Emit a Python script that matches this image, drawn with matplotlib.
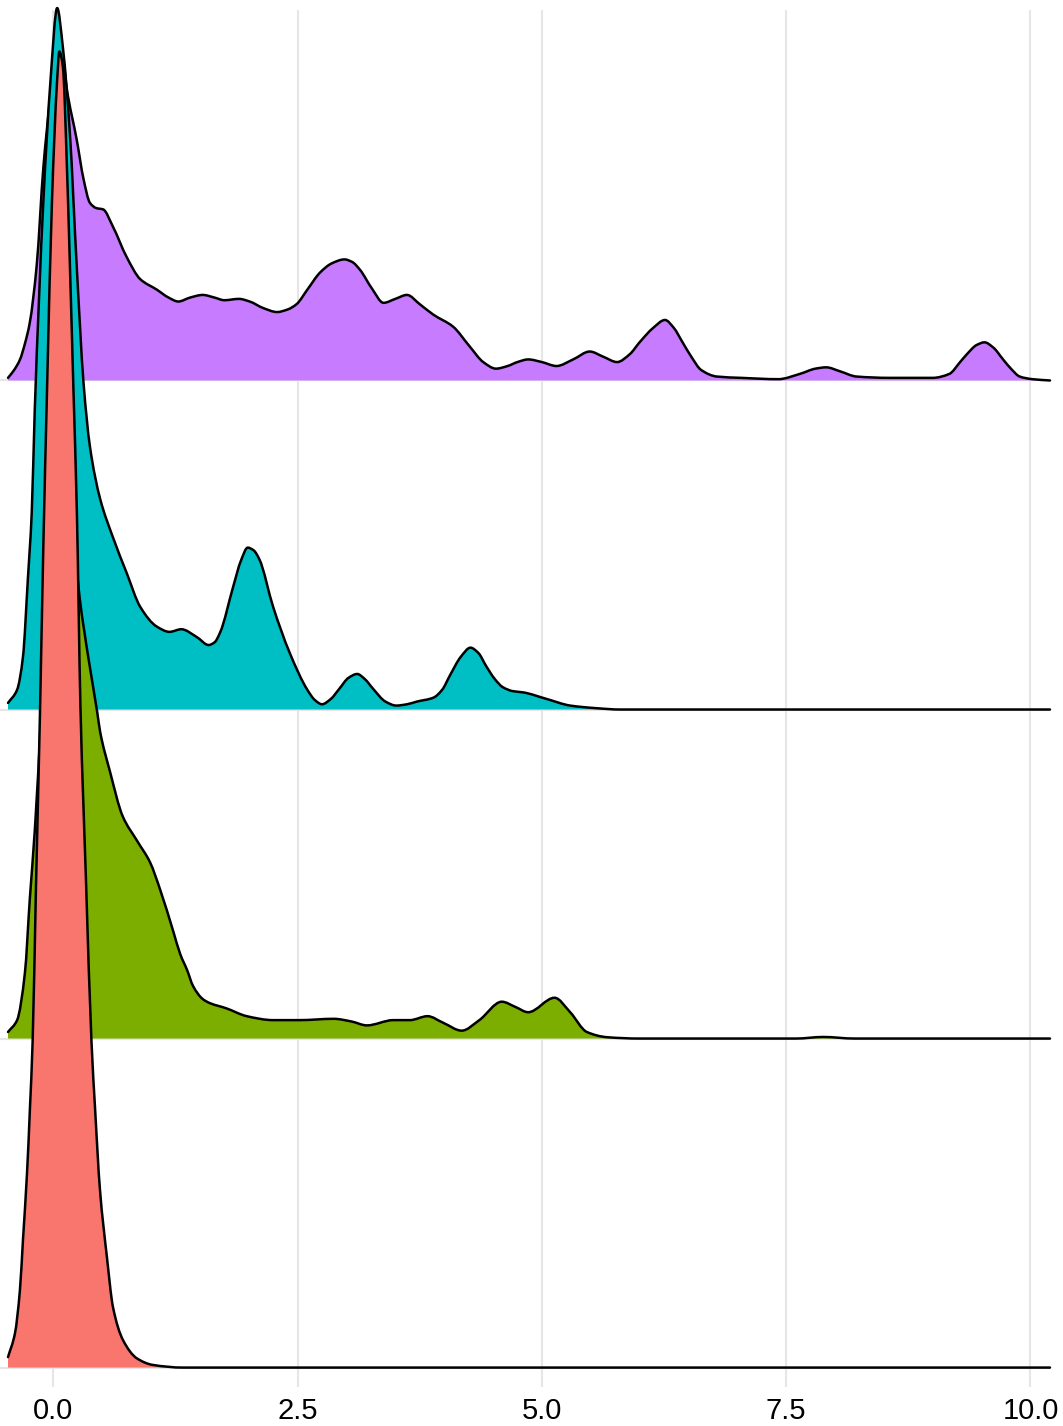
import matplotlib.pyplot as plt
import numpy as np
from matplotlib.path import Path
from matplotlib.patches import PathPatch

# ridge densities, relative to the tallest peak (=1)
red_x = [-0.463, -0.392, -0.341, -0.31, -0.269, -0.238, -0.211, -0.177, -0.136, -0.102,
         -0.064, -0.013, 0.038, 0.063, 0.099, 0.14, 0.171, 0.207, 0.242,
         0.278, 0.335, 0.391, 0.427, 0.478, 0.549, 0.611, 0.713, 0.856, 1.02, 1.33, 10.2]
red_h = [0.008, 0.026, 0.059, 0.097, 0.147, 0.198, 0.248, 0.365, 0.497, 0.623,
         0.742, 0.887, 0.976, 1.0, 0.988, 0.912, 0.836, 0.742, 0.649,
         0.503, 0.370, 0.248, 0.198, 0.135, 0.084, 0.046, 0.021, 0.007, 0.002, 0.0, 0.0]

green_x = [-0.463, -0.37, -0.29, -0.24, -0.19, -0.17, -0.136, -0.10, -0.064, 0.0, 0.06,
           0.12, 0.2, 0.27, 0.36, 0.45, 0.48, 0.58, 0.71, 0.86, 0.99, 1.09, 1.23, 1.30,
           1.37, 1.43, 1.53, 1.60, 1.77, 1.98, 2.25, 2.52, 2.87, 3.05, 3.21, 3.48, 3.65,
           3.83, 3.99, 4.18, 4.36, 4.59, 4.73, 4.86, 5.13, 5.29, 5.46, 5.67, 6.0, 7.6,
           7.88, 8.2, 10.2]
green_h = [0.005, 0.014, 0.050, 0.106, 0.157, 0.182, 0.228, 0.304, 0.365, 0.410, 0.426,
           0.420, 0.388, 0.335, 0.289, 0.248, 0.233, 0.203, 0.169, 0.150, 0.134, 0.114,
           0.081, 0.064, 0.052, 0.040, 0.030, 0.027, 0.023, 0.017, 0.014, 0.014, 0.015,
           0.013, 0.010, 0.014, 0.014, 0.017, 0.012, 0.006, 0.014, 0.028, 0.024, 0.020,
           0.031, 0.020, 0.005, 0.001, 0.0, 0.0, 0.0012, 0.0, 0.0]

cyan_x = [-0.463, -0.37, -0.31, -0.26, -0.22, -0.19, -0.10, -0.03, 0.04,
          0.10, 0.17, 0.24, 0.31, 0.375, 0.48, 0.61, 0.75, 0.89, 1.06, 1.19, 1.31,
          1.47, 1.59, 1.65, 1.71, 1.84, 1.92, 1.99, 2.05, 2.11, 2.25, 2.42, 2.60, 2.68,
          2.75, 2.84, 2.93, 3.02, 3.11, 3.19, 3.27, 3.40, 3.51, 3.62, 3.72, 3.89, 3.98,
          4.06, 4.17, 4.27, 4.35, 4.43, 4.52, 4.60, 4.70, 4.81, 5.05, 5.29, 5.56, 5.80,
          10.2]
cyan_h = [0.005, 0.015, 0.040, 0.099, 0.150, 0.226, 0.388, 0.476, 0.533,
          0.502, 0.438, 0.337, 0.248, 0.200, 0.160, 0.131, 0.104, 0.078, 0.063, 0.059,
          0.061, 0.055, 0.049, 0.051, 0.059, 0.093, 0.113, 0.123, 0.121, 0.114,
          0.078, 0.043, 0.015, 0.007, 0.004, 0.008, 0.016, 0.024, 0.027, 0.023, 0.016,
          0.006, 0.003, 0.004, 0.006, 0.009, 0.015, 0.026, 0.040, 0.047, 0.043, 0.033,
          0.023, 0.017, 0.014, 0.013, 0.008, 0.003, 0.001, 0.0, 0.0]

purple_x = [-0.463, -0.40, -0.34, -0.29, -0.24, -0.17, -0.10, -0.03, 0.04, 0.10, 0.14,
            0.24, 0.31, 0.375, 0.44, 0.51, 0.61, 0.75, 0.89, 1.06, 1.18, 1.28, 1.40,
            1.53, 1.65, 1.75, 1.90, 2.01, 2.15, 2.29, 2.40, 2.49, 2.60, 2.73, 2.85, 2.98,
            3.06, 3.14, 3.26, 3.38, 3.50, 3.62, 3.75, 3.89, 4.09, 4.26, 4.40, 4.53, 4.65,
            4.75, 4.86, 5.00, 5.15, 5.32, 5.49, 5.63, 5.77, 5.90, 6.00, 6.14, 6.26, 6.35,
            6.44, 6.53, 6.63, 6.79, 7.04, 7.42, 7.64, 7.80, 7.91, 8.05, 8.22, 8.56, 9.0,
            9.17, 9.28, 9.35, 9.45, 9.53, 9.62, 9.72, 9.80, 9.89, 10.02, 10.2]
purple_h = [0.002, 0.008, 0.016, 0.028, 0.044, 0.087, 0.163, 0.215, 0.255, 0.245, 0.221,
            0.183, 0.153, 0.135, 0.131, 0.130, 0.117, 0.094, 0.077, 0.069, 0.063, 0.060,
            0.063, 0.065, 0.063, 0.061, 0.062, 0.060, 0.055, 0.052, 0.054, 0.058, 0.069,
            0.082, 0.089, 0.092, 0.090, 0.084, 0.070, 0.059, 0.062, 0.065, 0.058, 0.050,
            0.041, 0.026, 0.014, 0.009, 0.011, 0.014, 0.016, 0.014, 0.011, 0.016, 0.022,
            0.018, 0.014, 0.020, 0.029, 0.040, 0.046, 0.040, 0.029, 0.018, 0.008, 0.003,
            0.002, 0.001, 0.005, 0.009, 0.010, 0.007, 0.003, 0.002, 0.002, 0.005, 0.014,
            0.020, 0.027, 0.029, 0.025, 0.016, 0.009, 0.003, 0.001, 0.0]

tick_vals = [0.0, 2.5, 5.0, 7.5, 10.0]
tick_labels = ['0.0', '2.5', '5.0', '7.5', '10.0']

# (x, height, colour, baseline) drawn back to front
ridges = [
    (purple_x, purple_h, '#C77CFF', 3),
    (cyan_x, cyan_h, '#00BFC4', 2),
    (green_x, green_h, '#7CAE00', 1),
    (red_x, red_h, '#F8766D', 0),
]
scale = 4.0


def smooth_path(x, y):
    # monotone cubic (pchip style) bezier through the read points
    h = np.diff(x)
    d = np.diff(y) / h
    m = np.zeros(len(x))
    m[0], m[-1] = d[0], d[-1]
    for k in range(1, len(x) - 1):
        if d[k - 1] * d[k] > 0:
            w1 = 2 * h[k] + h[k - 1]
            w2 = h[k] + 2 * h[k - 1]
            m[k] = (w1 + w2) / (w1 / d[k - 1] + w2 / d[k])
    verts = [(x[0], y[0])]
    codes = [Path.MOVETO]
    for k in range(len(x) - 1):
        verts += [(x[k] + h[k] / 3, y[k] + m[k] * h[k] / 3),
                  (x[k + 1] - h[k] / 3, y[k + 1] - m[k + 1] * h[k] / 3),
                  (x[k + 1], y[k + 1])]
        codes += [Path.CURVE4] * 3
    return verts, codes


fig = plt.figure(figsize=(10.63, 14.26), dpi=100)
ax = fig.add_axes([0, 39 / 1426, 1050 / 1063, 1377 / 1426])

for i, (xs, hs, col, base) in enumerate(ridges):
    xs = np.array(xs, dtype=float)
    top = base + scale * np.array(hs, dtype=float)
    verts, codes = smooth_path(xs, top)
    fill_v = verts + [(xs[-1], base), (xs[0], base), (xs[0], base)]
    fill_c = codes + [Path.LINETO, Path.LINETO, Path.CLOSEPOLY]
    ax.add_patch(PathPatch(Path(fill_v, fill_c), facecolor=col, lw=0, zorder=3 + 2 * i))
    ax.add_patch(PathPatch(Path(verts, codes), facecolor='none', edgecolor='black',
                           lw=1.8, joinstyle='round', capstyle='round',
                           zorder=4 + 2 * i, clip_on=False))

ax.set_xlim(-0.545, 10.2)
ax.set_ylim(-0.059, 4.126)
ax.set_xticks(tick_vals)
ax.set_xticklabels(tick_labels, fontsize=21, family='Liberation Sans', color='black')
ax.set_yticks([0, 1, 2, 3])
ax.set_yticklabels([])
ax.tick_params(length=0, pad=7)
ax.grid(True, color='#e6e6e6', lw=1.5, zorder=0)
ax.set_axisbelow(True)
for s in ax.spines.values():
    s.set_visible(False)

fig.savefig('out.png', dpi=100)
